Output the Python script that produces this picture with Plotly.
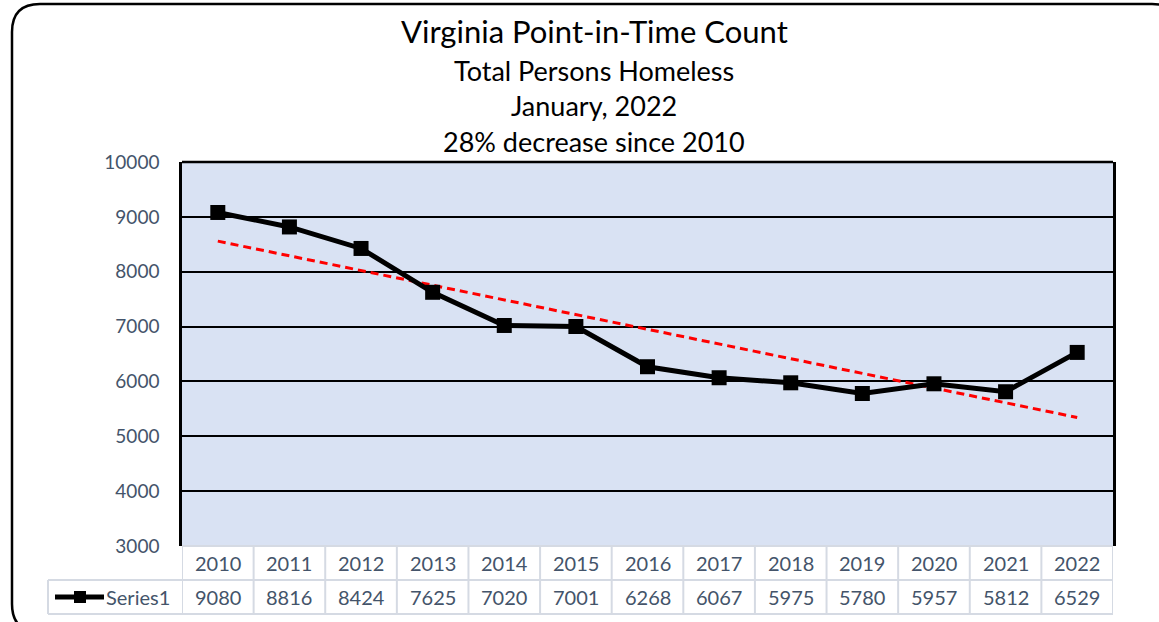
import numpy as np
import plotly.graph_objects as go

years = ["2010", "2011", "2012", "2013", "2014", "2015", "2016",
         "2017", "2018", "2019", "2020", "2021", "2022"]
values = [9080, 8816, 8424, 7625, 7020, 7001, 6268, 6067, 5975, 5780, 5957, 5812, 6529]
series_name = "Series1"
title_lines = ["Virginia Point-in-Time Count", "Total Persons Homeless",
               "January, 2022", "28% decrease since 2010"]
y_ticks = [3000, 4000, 5000, 6000, 7000, 8000, 9000, 10000]
y_tick_text = ["3000", "4000", "5000", "6000", "7000", "8000", "9000", "10000"]

W, H = 1159, 622
L, R, T, B = 182, 1113, 162, 546  # plot area in pixels
PW, PH = R - L, B - T
FONT = "Lato, Calibri, sans-serif"
TXT = "#44546A"
GRIDC = "#D5DAE3"


def px(x):
    return (x - L) / PW


def py(y):
    return (B - y) / PH


xi = np.arange(len(values))
slope, intercept = np.polyfit(xi, values, 1)
trend = slope * xi + intercept

fig = go.Figure()
fig.add_trace(go.Scatter(x=xi, y=trend, mode="lines",
                         line=dict(color="#FF0000", width=3, dash="8px,5px"),
                         hoverinfo="skip", showlegend=False))
fig.add_trace(go.Scatter(x=xi, y=values, mode="lines+markers", name=series_name,
                         line=dict(color="black", width=5),
                         marker=dict(symbol="square", size=15, color="black"),
                         showlegend=False))

shapes = []
shapes.append(dict(type="line", xref="paper", yref="paper", x0=0, x1=1, y0=0, y1=0,
                   line=dict(color=GRIDC, width=2), layer="above"))
for i in range(len(years) + 1):
    shapes.append(dict(type="line", xref="x", yref="paper", x0=i - 0.5, x1=i - 0.5,
                       y0=0, y1=py(614), line=dict(color=GRIDC, width=2)))
shapes.append(dict(type="line", xref="paper", yref="paper", x0=px(48), x1=px(48),
                   y0=py(580), y1=py(614), line=dict(color=GRIDC, width=2)))
for yy in (580, 614):
    shapes.append(dict(type="line", xref="paper", yref="paper", x0=px(48), x1=1,
                       y0=py(yy), y1=py(yy), line=dict(color=GRIDC, width=2)))
shapes.append(dict(type="line", xref="paper", yref="paper", x0=px(55), x1=px(104),
                   y0=py(597), y1=py(597), line=dict(color="black", width=5)))
shapes.append(dict(type="rect", xref="paper", yref="paper", x0=px(74), x1=px(86),
                   y0=py(603), y1=py(591), fillcolor="black", line=dict(width=0)))
shapes.append(dict(type="line", xref="paper", yref="paper", x0=0, x1=1, y0=1, y1=1,
                   line=dict(color="black", width=2.5)))
x0, x1, y0, y1 = px(12), px(1180), py(632), py(4)
rx, ry = 28 / PW, 28 / PH
path = (f"M {x0+rx},{y1} L {x1-rx},{y1} Q {x1},{y1} {x1},{y1-ry} "
        f"L {x1},{y0+ry} Q {x1},{y0} {x1-rx},{y0} L {x0+rx},{y0} "
        f"Q {x0},{y0} {x0},{y0+ry} L {x0},{y1-ry} Q {x0},{y1} {x0+rx},{y1} Z")
shapes.append(dict(type="path", xref="paper", yref="paper", path=path,
                   line=dict(color="black", width=2.5)))

annotations = []
title_y = [31, 70, 105, 141]
title_size = [31, 27, 27, 27]
for txt, yy, sz in zip(title_lines, title_y, title_size):
    annotations.append(dict(text=txt, xref="paper", yref="paper", x=px(594), y=py(yy),
                            xanchor="center", yanchor="middle", showarrow=False,
                            font=dict(family=FONT, size=sz, color="black")))
for i, (yr, v) in enumerate(zip(years, values)):
    annotations.append(dict(text=yr, xref="x", yref="paper", x=i, y=py(563),
                            xanchor="center", yanchor="middle", showarrow=False,
                            font=dict(family=FONT, size=20, color=TXT)))
    annotations.append(dict(text=str(v), xref="x", yref="paper", x=i, y=py(597),
                            xanchor="center", yanchor="middle", showarrow=False,
                            font=dict(family=FONT, size=20, color=TXT)))
annotations.append(dict(text=series_name, xref="paper", yref="paper", x=px(104), y=py(597),
                        xanchor="left", yanchor="middle", showarrow=False,
                        font=dict(family=FONT, size=20, color=TXT)))

fig.update_layout(
    width=W, height=H, autosize=False,
    margin=dict(l=L, r=W - R, t=T, b=H - B, pad=0),
    paper_bgcolor="white", plot_bgcolor="#D9E2F3",
    shapes=shapes, annotations=annotations, showlegend=False,
    xaxis=dict(range=[-0.5, len(years) - 0.5], showticklabels=False, showgrid=False,
               zeroline=False, showline=False, fixedrange=True),
    yaxis=dict(range=[3000, 10000], tickvals=y_ticks, ticktext=y_tick_text,
               showgrid=True, gridcolor="black",
               gridwidth=2, zeroline=False, showline=True, linecolor="black",
               linewidth=2.5, mirror=True, ticks="", ticklabelstandoff=16,
               tickfont=dict(family=FONT, size=19, color=TXT), fixedrange=True),
)

fig.write_html("out.html", config={"displayModeBar": False},
               post_script="document.body.style.margin='0';")
